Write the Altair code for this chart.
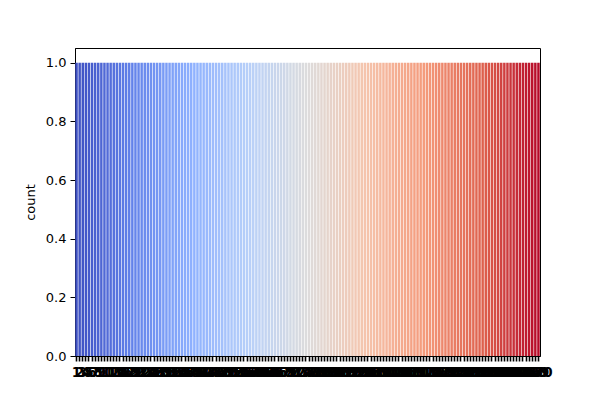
import altair as alt
import pandas as pd

# Categories: Id values 1..150, each counted once
ids = list(range(1, 151))
counts = [1] * 150

# coolwarm anchor colours
coolwarm = ["#3b4cc0", "#6282ea", "#8db0fe", "#b8d0f9", "#dddcdc",
            "#f5c4ac", "#f49a7b", "#de604d", "#b40426"]

df = pd.DataFrame({"Id": ids, "count": counts})

chart = alt.Chart(df).mark_bar().encode(
    x=alt.X("Id:O", sort=ids, title=None,
            scale=alt.Scale(paddingInner=0.2, paddingOuter=0.1),
            axis=alt.Axis(labelAngle=0, labelOverlap=False, labelBound=False,
                          labelFlush=False, labelFont="DejaVu Sans",
                          labelFontSize=13.5, labelFontWeight="bold",
                          labelColor="black",
                          tickColor="black", tickSize=5, tickWidth=1.6,
                          domainColor="black", labelPadding=4)),
    y=alt.Y("count:Q", title="count",
            scale=alt.Scale(domain=[0, 1.05], nice=False, zero=True),
            axis=alt.Axis(values=[0, 0.2, 0.4, 0.6, 0.8, 1.0], format=".1f",
                          grid=False, labelFont="DejaVu Sans", labelFontSize=13,
                          labelColor="black", tickColor="black", tickSize=5,
                          tickWidth=1, domainColor="black", labelPadding=4,
                          titleFont="DejaVu Sans", titleFontSize=13,
                          titleFontWeight="normal", titleColor="black",
                          titlePadding=8)),
    color=alt.Color("Id:Q", legend=None,
                    scale=alt.Scale(domain=[0, 151], range=coolwarm,
                                    interpolate="rgb")),
).properties(
    width=465, height=308,
    autosize=alt.AutoSizeParams(type="none"),
    padding={"left": 67, "top": 40, "right": 40, "bottom": 40},
).configure_view(stroke="black", strokeWidth=1)

chart.save("out.html", embed_options={"renderer": "svg", "actions": False})
